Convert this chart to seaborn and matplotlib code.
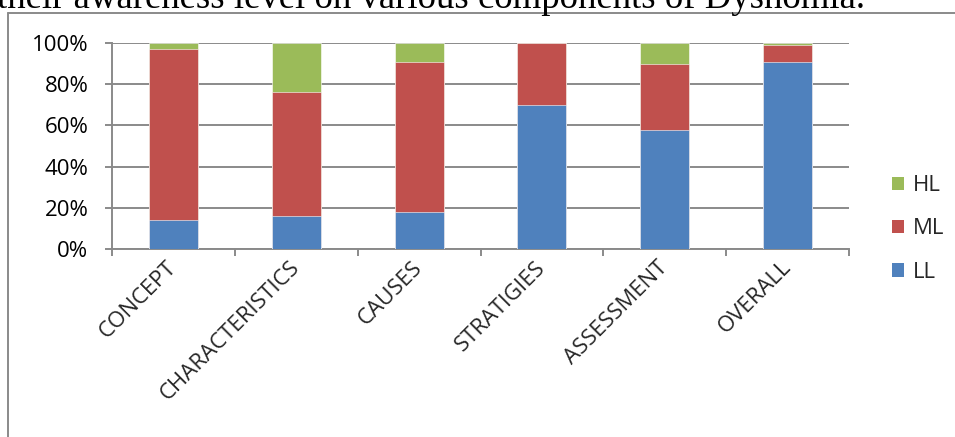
import numpy as np
import pandas as pd
import matplotlib
matplotlib.use("Agg")
import matplotlib.pyplot as plt
from matplotlib.lines import Line2D
from matplotlib.patches import Patch
from matplotlib.ticker import PercentFormatter, FixedLocator
import seaborn as sns

# data (percent of respondents per level)
categories = ["CONCEPT", "CHARACTERISTICS", "CAUSES", "STRATIGIES", "ASSESSMENT", "OVERALL"]
ll_values = [14, 16, 18, 70, 58, 91]
ml_values = [83, 60, 73, 30, 32, 8]
hl_values = [3, 24, 9, 0, 10, 1]
levels = ["LL", "ML", "HL"]
colors = {"LL": "#4F81BD", "ML": "#C0504D", "HL": "#9BBB59"}
title_text = "their awareness level on various components of Dysnomia."

df = pd.DataFrame({"category": categories, "LL": ll_values, "ML": ml_values, "HL": hl_values})
df["ML_top"] = df["LL"] + df["ML"]
df["HL_top"] = df["ML_top"] + df["HL"]

sns.set_theme(style="white")
plt.rcParams["font.family"] = ["Open Sans", "DejaVu Sans"]

fig = plt.figure(figsize=(9.55, 4.37), dpi=100)
ax = fig.add_axes([112 / 955, 1 - 249 / 437, (849 - 112) / 955, (249 - 43) / 437])

# stacked bars: draw cumulative totals back to front
for col, lvl in [("HL_top", "HL"), ("ML_top", "ML"), ("LL", "LL")]:
    sns.barplot(data=df, x="category", y=col, color=colors[lvl], width=0.4,
                saturation=1, ax=ax, edgecolor="white", linewidth=0.4, zorder=3)

ax.set_ylim(0, 100)
ax.set_xlim(-0.5, len(categories) - 0.5)
ax.set_yticks(np.arange(0, 101, 20))
ax.yaxis.set_major_formatter(PercentFormatter(decimals=0))
ax.grid(axis="y", color="#8a8a8a", linewidth=1.4, zorder=0)
ax.set_xlabel("")
ax.set_ylabel("")

for side in ["top", "right"]:
    ax.spines[side].set_visible(False)
for side in ["left", "bottom"]:
    ax.spines[side].set_color("#8a8a8a")
    ax.spines[side].set_linewidth(1.4)

ax.tick_params(axis="y", length=5, width=1.4, color="#8a8a8a", left=True,
               labelsize=16, pad=12, labelcolor="black")
ax.tick_params(axis="x", which="major", length=0, labelsize=16, pad=11)
ax.xaxis.set_minor_locator(FixedLocator(np.arange(-0.5, len(categories), 1.0)))
ax.tick_params(axis="x", which="minor", bottom=True, length=5, width=1.4, color="#8a8a8a")
for lab in ax.get_xticklabels():
    lab.set_rotation(45)
    lab.set_ha("right")
    lab.set_va("center")
    lab.set_rotation_mode("anchor")

handles = [Patch(facecolor=colors[l], edgecolor="none") for l in ["HL", "ML", "LL"]]
fig.legend(handles, ["HL", "ML", "LL"], loc="center left", bbox_to_anchor=(872 / 955, 1 - 229 / 437),
           frameon=False, fontsize=16, handlelength=0.55, handleheight=0.55,
           handletextpad=0.4, labelspacing=1.0)

# outer chart frame (partly cut off, like the page crop)
fig.add_artist(Line2D([8 / 955, 1.0], [1 - 13 / 437] * 2, color="#8a8a8a", lw=1.4))
fig.add_artist(Line2D([8 / 955] * 2, [0.0, 1 - 13 / 437], color="#8a8a8a", lw=1.4))

fig.text(-0.003, 1 - 8 / 437, title_text, family="Liberation Serif", fontsize=26.5,
         ha="left", va="baseline", color="black")

fig.savefig("out.png", dpi=100)
